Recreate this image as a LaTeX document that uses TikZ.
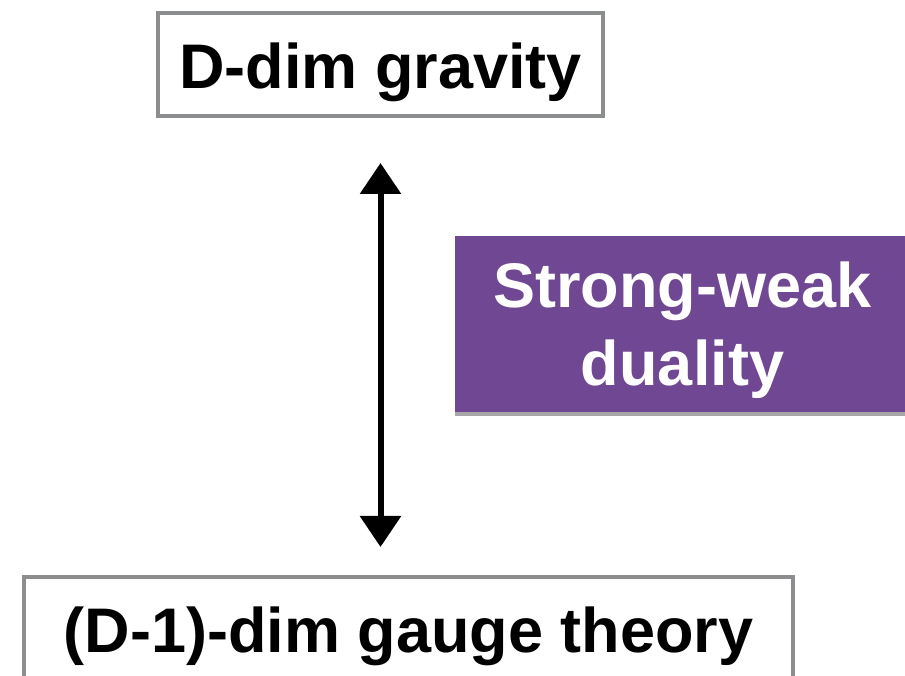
\documentclass[tikz,border=0pt]{standalone}
\usepackage{fontspec}
\setmainfont{Liberation Sans}
\usetikzlibrary{arrows.meta,shadows}

\definecolor{boxgray}{RGB}{139,141,143}
\definecolor{dualpurple}{RGB}{111,71,146}

\begin{document}
\begin{tikzpicture}[x=1pt, y=1pt,
  theory/.style={draw=boxgray, line width=4pt, fill=white, inner sep=0pt,
    font=\bfseries\fontsize{63}{76}\selectfont, text depth=0pt},
  dualbox/.style={fill=dualpurple, text=white, align=center, inner sep=0pt,
    font=\bfseries\fontsize{63}{78}\selectfont, text depth=0pt,
    drop shadow={shadow xshift=0pt, shadow yshift=-4pt, fill=black, opacity=0.35}},
  dualarrow/.style={line width=6pt, {Triangle[width=40pt,length=31pt]}-{Triangle[width=40pt,length=31pt]}}]
  \clip (0,0) rectangle (905,675);
  % Nodes
  \node[theory, minimum width=445pt, minimum height=103pt, text height=49pt] (Gravity) at (380.5,610.5) {D-dim gravity};

  \node[dualbox, minimum width=455pt, minimum height=176pt] (Duality) at (682.5,351) {Strong-weak\\duality};

  \node[theory, minimum width=769pt, minimum height=128pt, text height=22pt] (Gauge) at (408.5,34) {(D-1)-dim gauge theory};

  % Edges
  \draw[dualarrow, shorten <=45pt, shorten >=28pt] (Gravity.south) -- (Gravity.south |- Gauge.north);
\end{tikzpicture}
\end{document}
